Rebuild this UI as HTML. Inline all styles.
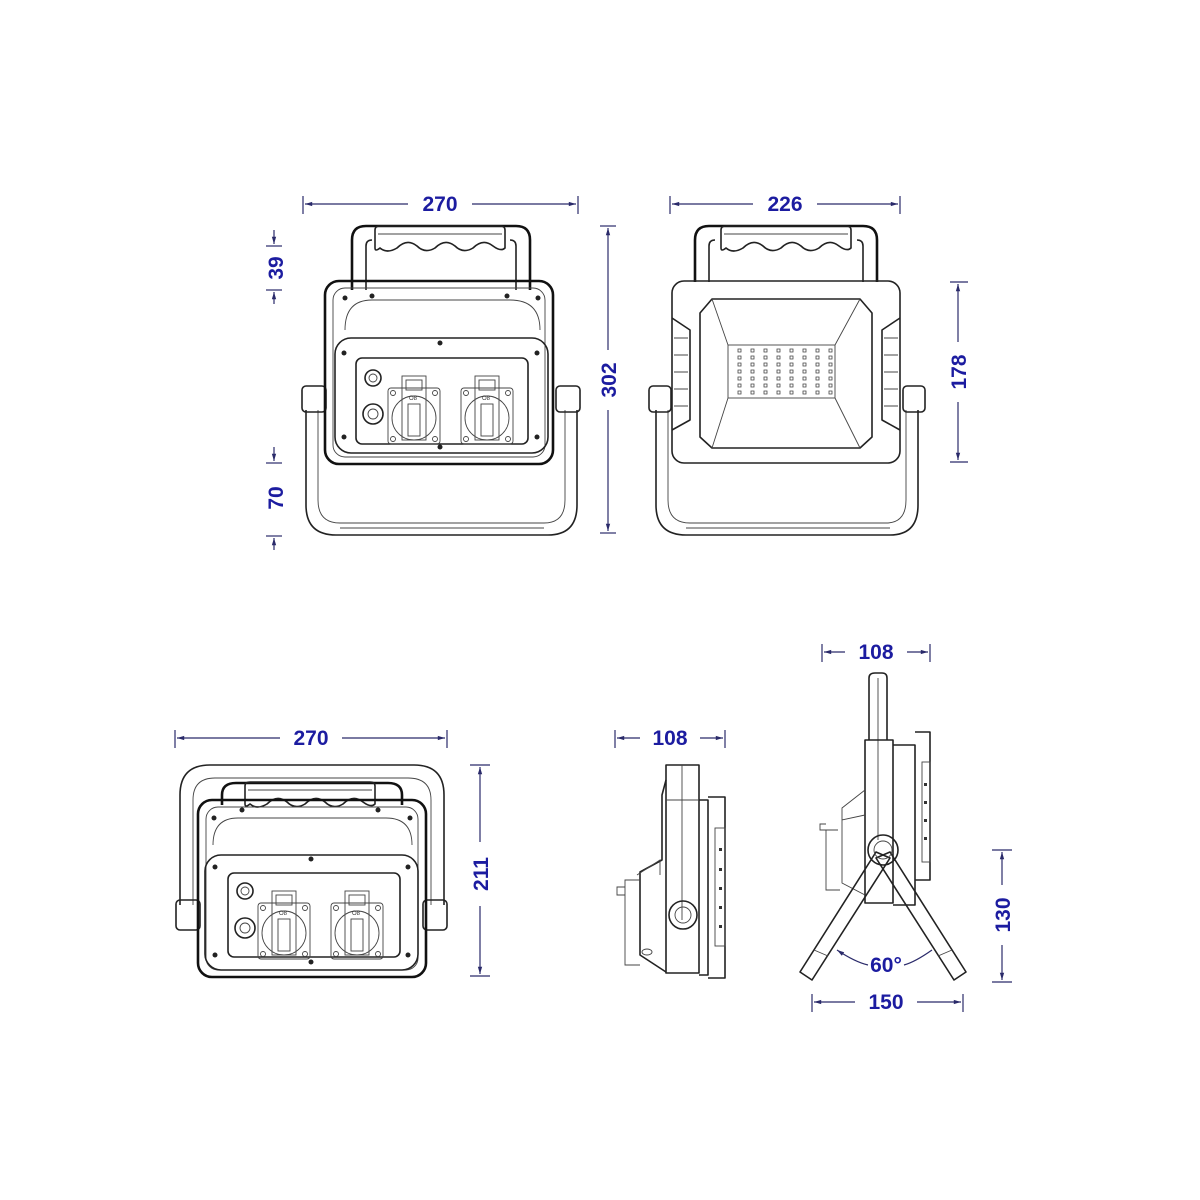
<!DOCTYPE html>
<html><head><meta charset="utf-8"><style>
html,body{margin:0;padding:0;background:#fff}
svg{display:block}
.d{fill:none;stroke:#2a2a6a;stroke-width:1.2}
.t{font-family:"Liberation Sans",sans-serif;font-weight:bold;font-size:21px;fill:#1c1ca0}
.k{fill:none;stroke:#222;stroke-width:1.6;stroke-linejoin:round}
.l{fill:none;stroke:#444;stroke-width:0.9}
.h{fill:none;stroke:#111;stroke-width:2.6}
</style></head><body>
<svg width="1200" height="1200" viewBox="0 0 1200 1200" xmlns="http://www.w3.org/2000/svg">
<defs>
<marker id="a" viewBox="0 0 10 10" refX="10" refY="5" markerWidth="8" markerHeight="6" orient="auto-start-reverse"><path d="M0,2 L10,5 L0,8z" fill="#2a2a6a"/></marker>
<g id="sock">
  <rect x="0" y="0" width="52" height="56" rx="3" class="l"/>
  <circle cx="26" cy="30" r="22" class="l"/>
  <rect x="14" y="-12" width="24" height="64" class="l"/>
  <rect x="18" y="-8" width="16" height="10" class="l"/>
  <rect x="20" y="16" width="12" height="32" class="l"/>
  <text x="21" y="12" font-family="Liberation Sans" font-size="6" fill="#333">O8</text>
  <circle cx="5" cy="5" r="2.5" class="l"/><circle cx="47" cy="5" r="2.5" class="l"/>
  <circle cx="5" cy="51" r="2.5" class="l"/><circle cx="47" cy="51" r="2.5" class="l"/>
</g>
<g id="grip">
  <path d="M0,4 Q0,0 5,0 H125 Q130,0 130,4 V22 Q126,26 118,20 Q108,12 98,22 Q88,28 80,20 Q70,12 60,22 Q50,28 42,20 Q32,12 22,22 Q12,28 5,22 Q0,26 0,22Z" class="k"/>
  <path d="M3,8 H127" class="l"/>
</g>
</defs>

<!-- ===== Top-left view ===== -->
<line x1="303" y1="196" x2="303" y2="214" class="d"/><line x1="578" y1="196" x2="578" y2="214" class="d"/>
<line x1="305" y1="204" x2="408" y2="204" class="d" marker-start="url(#a)"/>
<line x1="472" y1="204" x2="576" y2="204" class="d" marker-end="url(#a)"/>
<text x="440" y="211" class="t" text-anchor="middle">270</text>
<!-- 39 / 70 -->
<line x1="266" y1="246" x2="282" y2="246" class="d"/><line x1="274" y1="230" x2="274" y2="244" class="d" marker-end="url(#a)"/>
<line x1="266" y1="290" x2="282" y2="290" class="d"/><line x1="274" y1="304" x2="274" y2="292" class="d" marker-end="url(#a)"/>
<text transform="translate(283,268) rotate(-90)" class="t" text-anchor="middle">39</text>
<line x1="266" y1="463" x2="282" y2="463" class="d"/><line x1="274" y1="447" x2="274" y2="461" class="d" marker-end="url(#a)"/>
<line x1="266" y1="536" x2="282" y2="536" class="d"/><line x1="274" y1="550" x2="274" y2="538" class="d" marker-end="url(#a)"/>
<text transform="translate(283,498) rotate(-90)" class="t" text-anchor="middle">70</text>
<!-- 302 -->
<line x1="600" y1="226" x2="616" y2="226" class="d"/><line x1="600" y1="533" x2="616" y2="533" class="d"/>
<line x1="608" y1="228" x2="608" y2="350" class="d" marker-start="url(#a)"/>
<line x1="608" y1="410" x2="608" y2="531" class="d" marker-end="url(#a)"/>
<text transform="translate(616,380) rotate(-90)" class="t" text-anchor="middle">302</text>
<!-- stand -->
<path d="M306,410 V505 Q306,535 336,535 H548 Q577,535 577,505 V410" class="k"/>
<path d="M318,410 V500 Q318,523 340,523 H544 Q565,523 565,500 V410" class="l"/>
<line x1="340" y1="528" x2="544" y2="528" class="l"/>
<rect x="302" y="386" width="24" height="26" rx="4" class="k"/><rect x="556" y="386" width="24" height="26" rx="4" class="k"/>
<!-- handle -->
<path d="M352,290 V240 Q352,226 366,226 H516 Q530,226 530,240 V290" class="h"/>
<path d="M366,290 V246 Q366,240 372,240 M510,240 Q516,240 516,246 V290" class="k"/>
<use href="#grip" x="375" y="226"/>
<!-- body -->
<rect x="325" y="281" width="228" height="183" rx="14" class="h"/>
<rect x="333" y="288" width="212" height="169" rx="12" class="l"/>
<path d="M345,330 Q345,300 372,300 H510 Q540,300 540,330" class="l"/>
<rect x="335" y="338" width="213" height="115" rx="16" class="k"/>
<rect x="356" y="358" width="172" height="86" rx="6" class="k"/>
<circle cx="373" cy="378" r="8" class="k"/><circle cx="373" cy="378" r="4" class="l"/>
<circle cx="373" cy="414" r="10" class="k"/><circle cx="373" cy="414" r="5" class="l"/>
<use href="#sock" x="388" y="388"/><use href="#sock" x="461" y="388"/>
<g fill="#222"><circle cx="440" cy="343" r="2.5"/><circle cx="440" cy="447" r="2.5"/><circle cx="345" cy="298" r="2.5"/><circle cx="538" cy="298" r="2.5"/><circle cx="372" cy="296" r="2.5"/><circle cx="507" cy="296" r="2.5"/><circle cx="344" cy="353" r="2.5"/><circle cx="537" cy="353" r="2.5"/><circle cx="344" cy="437" r="2.5"/><circle cx="537" cy="437" r="2.5"/></g>

<!-- ===== Top-right view ===== -->
<line x1="670" y1="196" x2="670" y2="214" class="d"/><line x1="900" y1="196" x2="900" y2="214" class="d"/>
<line x1="672" y1="204" x2="753" y2="204" class="d" marker-start="url(#a)"/>
<line x1="817" y1="204" x2="898" y2="204" class="d" marker-end="url(#a)"/>
<text x="785" y="211" class="t" text-anchor="middle">226</text>
<line x1="950" y1="282" x2="968" y2="282" class="d"/><line x1="950" y1="462" x2="968" y2="462" class="d"/>
<line x1="958" y1="284" x2="958" y2="342" class="d" marker-start="url(#a)"/>
<line x1="958" y1="402" x2="958" y2="460" class="d" marker-end="url(#a)"/>
<text transform="translate(966,372) rotate(-90)" class="t" text-anchor="middle">178</text>
<path d="M656,410 V505 Q656,535 686,535 H890 Q918,535 918,505 V410" class="k"/>
<path d="M668,410 V500 Q668,523 690,523 H886 Q906,523 906,500 V410" class="l"/>
<line x1="686" y1="528" x2="890" y2="528" class="l"/>
<rect x="649" y="386" width="22" height="26" rx="4" class="k"/><rect x="903" y="386" width="22" height="26" rx="4" class="k"/>
<path d="M695,282 V240 Q695,226 709,226 H863 Q877,226 877,240 V282" class="h"/>
<path d="M709,282 V246 Q709,240 715,240 M857,240 Q863,240 863,246 V282" class="k"/>
<use href="#grip" x="721" y="226"/>
<rect x="672" y="281" width="228" height="182" rx="12" class="k"/>
<path d="M712,299 H860 L872,313 V437 L860,448 H712 L700,437 V313Z" class="k"/>
<rect x="728" y="345" width="107" height="53" class="l"/>
<path d="M712,299 L728,345 M860,299 L835,345 M712,448 L728,398 M860,448 L835,398" class="l"/>
<path d="M672,318 L690,330 V420 L672,430 M900,318 L882,330 V420 L900,430" class="k"/>
<path d="M674,338 H688 M674,355 H688 M674,372 H688 M674,389 H688 M674,406 H688 M884,338 H898 M884,355 H898 M884,372 H898 M884,389 H898 M884,406 H898" class="l"/>
<g fill="none" stroke="#444" stroke-width="0.8">
<path id="ledrow" d="M738,349 h3v3h-3z M751,349 h3v3h-3z M764,349 h3v3h-3z M777,349 h3v3h-3z M790,349 h3v3h-3z M803,349 h3v3h-3z M816,349 h3v3h-3z M829,349 h3v3h-3z"/>
<use href="#ledrow" y="7"/><use href="#ledrow" y="14"/><use href="#ledrow" y="21"/><use href="#ledrow" y="28"/><use href="#ledrow" y="35"/><use href="#ledrow" y="42"/>
</g>

<!-- ===== Bottom-left view ===== -->
<line x1="175" y1="730" x2="175" y2="748" class="d"/><line x1="447" y1="730" x2="447" y2="748" class="d"/>
<line x1="177" y1="738" x2="280" y2="738" class="d" marker-start="url(#a)"/>
<line x1="342" y1="738" x2="445" y2="738" class="d" marker-end="url(#a)"/>
<text x="311" y="745" class="t" text-anchor="middle">270</text>
<line x1="470" y1="765" x2="490" y2="765" class="d"/><line x1="470" y1="976" x2="490" y2="976" class="d"/>
<line x1="480" y1="767" x2="480" y2="842" class="d" marker-start="url(#a)"/>
<line x1="480" y1="906" x2="480" y2="974" class="d" marker-end="url(#a)"/>
<text transform="translate(488,874) rotate(-90)" class="t" text-anchor="middle">211</text>
<path d="M180,905 V795 Q180,765 210,765 H414 Q444,765 444,795 V905" class="k"/>
<path d="M193,905 V800 Q193,778 215,778 H408 Q431,778 431,800 V905" class="l"/>
<rect x="176" y="900" width="24" height="30" rx="4" class="k"/><rect x="423" y="900" width="24" height="30" rx="4" class="k"/>
<path d="M222,805 V795 Q222,783 236,783 H388 Q402,783 402,795 V805" class="h"/>
<use href="#grip" x="245" y="782"/>
<rect x="198" y="800" width="228" height="177" rx="14" class="h"/>
<rect x="206" y="807" width="212" height="163" rx="12" class="l"/>
<path d="M213,845 Q213,818 238,818 H386 Q412,818 412,845" class="l"/>
<rect x="205" y="855" width="213" height="115" rx="16" class="k"/>
<rect x="228" y="873" width="172" height="84" rx="6" class="k"/>
<circle cx="245" cy="891" r="8" class="k"/><circle cx="245" cy="891" r="4" class="l"/>
<circle cx="245" cy="928" r="10" class="k"/><circle cx="245" cy="928" r="5" class="l"/>
<use href="#sock" x="258" y="903"/><use href="#sock" x="331" y="903"/>
<g fill="#222"><circle cx="311" cy="859" r="2.5"/><circle cx="311" cy="962" r="2.5"/><circle cx="242" cy="810" r="2.5"/><circle cx="378" cy="810" r="2.5"/><circle cx="214" cy="818" r="2.5"/><circle cx="410" cy="818" r="2.5"/><circle cx="215" cy="867" r="2.5"/><circle cx="408" cy="867" r="2.5"/><circle cx="215" cy="955" r="2.5"/><circle cx="408" cy="955" r="2.5"/></g>

<!-- ===== Middle side view ===== -->
<line x1="615" y1="730" x2="615" y2="748" class="d"/><line x1="725" y1="730" x2="725" y2="748" class="d"/>
<line x1="617" y1="738" x2="640" y2="738" class="d" marker-start="url(#a)"/>
<line x1="700" y1="738" x2="723" y2="738" class="d" marker-end="url(#a)"/>
<text x="670" y="745" class="t" text-anchor="middle">108</text>
<rect x="666" y="765" width="33" height="208" class="k"/>
<line x1="682" y1="765" x2="682" y2="920" class="l"/><line x1="666" y1="800" x2="699" y2="800" class="l"/>
<path d="M699,800 H708 V975 H699 M708,797 H725 V978 H708" class="k"/>
<rect x="715" y="828" width="10" height="118" class="l"/>
<g fill="#333"><rect x="719" y="848" width="3" height="3"/><rect x="719" y="868" width="3" height="3"/><rect x="719" y="887" width="3" height="3"/><rect x="719" y="906" width="3" height="3"/><rect x="719" y="925" width="3" height="3"/></g>
<path d="M666,780 L662,795 V860 L640,872 V955 L666,972" class="k"/>
<path d="M640,880 H625 V965 H640 M625,895 h-8 v-8 h8" class="l"/>
<path d="M637,875 L660,860 V875" class="l"/>
<ellipse cx="647" cy="952" rx="5" ry="3" class="l"/>
<circle cx="683" cy="915" r="14" class="k"/><circle cx="683" cy="915" r="8" class="l"/>

<!-- ===== Right side view ===== -->
<line x1="822" y1="644" x2="822" y2="662" class="d"/><line x1="930" y1="644" x2="930" y2="662" class="d"/>
<line x1="824" y1="652" x2="845" y2="652" class="d" marker-start="url(#a)"/>
<line x1="907" y1="652" x2="928" y2="652" class="d" marker-end="url(#a)"/>
<text x="876" y="659" class="t" text-anchor="middle">108</text>
<path d="M869,740 V678 Q869,673 875,673 H882 Q887,673 887,678 V740" class="k"/>
<line x1="878" y1="678" x2="878" y2="840" class="l"/>
<path d="M865,740 V903 H893 V740Z" class="k"/>
<path d="M893,745 H915 V905 H893 M915,732 H930 V880 H915" class="k"/>
<rect x="922" y="762" width="8" height="100" class="l"/>
<g fill="#333"><rect x="924" y="783" width="3" height="3"/><rect x="924" y="801" width="3" height="3"/><rect x="924" y="819" width="3" height="3"/><rect x="924" y="837" width="3" height="3"/></g>
<path d="M865,790 L842,808 V820 L865,815 M842,820 V883 L865,895 M838,830 H826 V890 H840 M826,830 h-6 v-6 h6" class="l"/>
<path d="M876,852 L800,972 L812,980 L890,858Z" class="k"/>
<path d="M890,852 L966,972 L954,980 L876,858Z" class="k"/>
<path d="M814,950 L828,956 M952,950 L938,956" class="l"/>
<circle cx="883" cy="850" r="15" class="k" fill="#fff"/><circle cx="883" cy="850" r="9" class="l"/>
<path d="M837,950 Q855,962 868,965 M932,950 Q915,962 904,965" class="d" marker-start="url(#a)"/>
<text x="886" y="972" class="t" text-anchor="middle">60°</text>
<line x1="812" y1="994" x2="812" y2="1012" class="d"/><line x1="963" y1="994" x2="963" y2="1012" class="d"/>
<line x1="814" y1="1002" x2="855" y2="1002" class="d" marker-start="url(#a)"/>
<line x1="917" y1="1002" x2="961" y2="1002" class="d" marker-end="url(#a)"/>
<text x="886" y="1009" class="t" text-anchor="middle">150</text>
<line x1="992" y1="850" x2="1012" y2="850" class="d"/><line x1="992" y1="982" x2="1012" y2="982" class="d"/>
<line x1="1002" y1="852" x2="1002" y2="885" class="d" marker-start="url(#a)"/>
<line x1="1002" y1="945" x2="1002" y2="980" class="d" marker-end="url(#a)"/>
<text transform="translate(1010,915) rotate(-90)" class="t" text-anchor="middle">130</text>
</svg>
</body></html>
